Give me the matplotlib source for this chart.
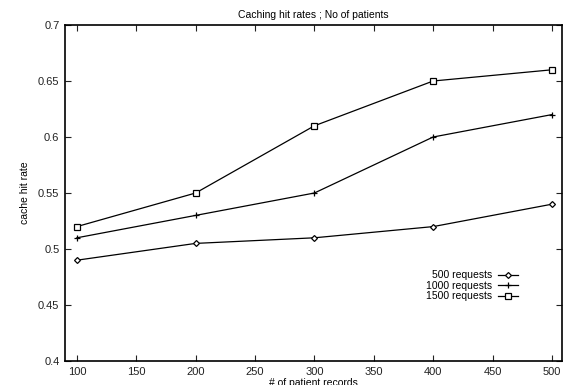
import matplotlib
matplotlib.use("Agg")
import matplotlib.pyplot as plt

plt.rcParams['font.family'] = ['Liberation Sans', 'DejaVu Sans']

records = [100, 200, 300, 400, 500]
req500 = [0.49, 0.505, 0.51, 0.52, 0.54]
req1000 = [0.51, 0.53, 0.55, 0.60, 0.62]
req1500 = [0.52, 0.55, 0.61, 0.65, 0.66]
labels = ["500 requests", "1000 requests", "1500 requests"]
xticks = [100, 150, 200, 250, 300, 350, 400, 450, 500]
yticks = [0.4, 0.45, 0.5, 0.55, 0.6, 0.65, 0.7]

fig = plt.figure(figsize=(5.65, 3.85), dpi=100)
ax = fig.add_axes([65/565, 1-361/385, (562-65)/565, (361-25)/385])

ax.plot(records, req500, color='black', lw=0.9, marker='D', ms=3, mfc='white', mec='black', mew=0.9, label=labels[0])
ax.plot(records, req1000, color='black', lw=0.9, marker='+', ms=5, mec='black', mew=0.9, label=labels[1])
ax.plot(records, req1500, color='black', lw=0.9, marker='s', ms=4.2, mfc='white', mec='black', mew=0.9, label=labels[2])

ax.set_xlim(90, 508.5)
ax.set_ylim(0.4, 0.7)
ax.set_xticks(xticks)
ax.set_xticklabels([str(v) for v in xticks])
ax.set_yticks(yticks)
ax.set_yticklabels([f"{v:g}" for v in yticks])
ax.tick_params(direction='in', top=True, right=True, length=4, width=0.8, labelsize=8, colors='#222222', pad=4)
for s in ax.spines.values():
    s.set_linewidth(1.2)

ax.set_title("Caching hit rates ; No of patients", fontsize=7.5, pad=5)
ax.set_xlabel("# of patient records", fontsize=7.5, labelpad=1)
ax.set_ylabel("cache hit rate", fontsize=7.5, labelpad=6)

leg = ax.legend(loc='upper right', bbox_to_anchor=(458/497, (361-265)/336), frameon=False, markerfirst=False,
                fontsize=7.5, handlelength=1.9, handletextpad=0.6, labelspacing=0.05, borderpad=0)
fig.savefig("out.png", dpi=100)
